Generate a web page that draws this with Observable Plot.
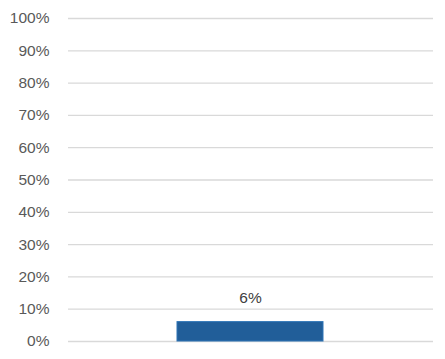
<!DOCTYPE html>
<html>
<head>
<meta charset="utf-8">
<script src="https://cdn.jsdelivr.net/npm/d3@7"></script>
<script src="https://cdn.jsdelivr.net/npm/@observablehq/plot@0.6"></script>
<style>
  html, body { margin: 0; padding: 0; background: #fff; }
  #chart { width: 445px; height: 359px; }
</style>
</head>
<body>
<div id="chart"></div>
<script>
const categories = [""];
const values = [0.06];
const valueLabels = ["6%"];
const yTicks = [0, 0.1, 0.2, 0.3, 0.4, 0.5, 0.6, 0.7, 0.8, 0.9, 1.0];

const data = categories.map((c, i) => ({ cat: c, value: values[i], label: valueLabels[i] }));

const chart = Plot.plot({
  width: 445,
  height: 359,
  marginLeft: 68,
  marginRight: 12,
  marginTop: 18,
  marginBottom: 18,
  style: { fontFamily: "'Liberation Sans', Arial, sans-serif", background: "#fff", color: "#595959" },
  x: { domain: categories, padding: 0.426, axis: null },
  y: { domain: [0, 1], ticks: yTicks, tickFormat: d3.format(".0%"), label: null },
  marks: [
    Plot.ruleY(yTicks, { stroke: "#d9d9d9", strokeWidth: 1.3 }),
    Plot.axisY({ ticks: yTicks, tickFormat: d3.format(".0%"), tickSize: 0, tickPadding: 19, fontSize: 15.5, fill: "#595959", label: null }),
    Plot.barY(data, { x: "cat", y: "value", fill: "#215E99", stroke: "#2E75B6", strokeWidth: 1 }),
    Plot.text(data, { x: "cat", y: "value", text: "label", dy: -24, fontSize: 15.5, fill: "#404040" })
  ]
});
document.getElementById("chart").appendChild(chart);
</script>
</body>
</html>
